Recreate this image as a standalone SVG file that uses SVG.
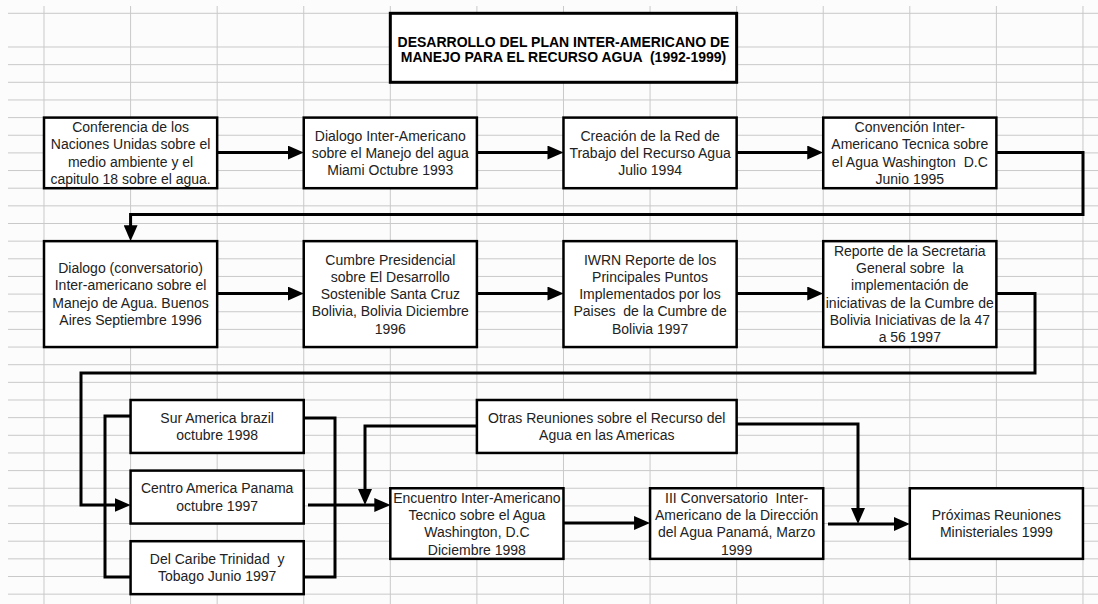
<svg xmlns="http://www.w3.org/2000/svg" width="1098" height="604" viewBox="0 0 1098 604">
<defs>
<marker id="ah" markerUnits="userSpaceOnUse" markerWidth="16" markerHeight="14" refX="6" refY="7" orient="auto">
<path d="M0,0 L16,7 L0,14 z" fill="#000"/>
</marker>
<style>
.grid{stroke:#c9c9c9;stroke-width:1;fill:none}
.box{fill:#fff;stroke:#000;stroke-width:2.5}
.t{font-family:"Liberation Sans",Arial,sans-serif;font-size:14px;fill:#222;text-anchor:middle;white-space:pre}
.title{font-family:"Liberation Sans",Arial,sans-serif;font-size:14px;font-weight:bold;fill:#000;text-anchor:middle;white-space:pre}
.c{fill:none;stroke:#000;stroke-width:3;stroke-linejoin:miter}
.a{marker-end:url(#ah)}
</style>
</defs>
<rect width="1098" height="604" fill="#fcfcfc"/>
<g id="grid" class="grid">
<path d="M8,13.3H1098 M8,47H1098 M8,64.65H1098 M8,82.3H1098 M8,99.95H1098 M8,117.6H1098 M8,135.25H1098 M8,152.9H1098 M8,170.55H1098 M8,188.2H1098 M8,205.85H1098 M8,223.5H1098 M8,241.15H1098 M8,258.8H1098 M8,276.45H1098 M8,294.1H1098 M8,311.75H1098 M8,329.4H1098 M8,347.05H1098 M8,364.7H1098 M8,382.35H1098 M8,400H1098 M8,417.65H1098 M8,435.3H1098 M8,452.95H1098 M8,470.6H1098 M8,488.25H1098 M8,505.9H1098 M8,523.55H1098 M8,541.2H1098 M8,558.85H1098 M8,576.5H1098 M8,594.15H1098"/>
<path d="M44,6V604 M130.58,6V604 M217.16,6V604 M303.74,6V604 M390.32,6V604 M476.9,6V604 M563.48,6V604 M650.06,6V604 M736.64,6V604 M823.22,6V604 M909.8,6V604 M996.38,6V604 M1082.96,6V604"/>
</g>
<g id="connectors">
<path class="c a" d="M217.16,152.5H293.74"/>
<path class="c a" d="M476.9,152.5H553.48"/>
<path class="c a" d="M736.64,152.5H813.22"/>
<path class="c a" d="M996.38,152.5H1083V214.5H130.58V231.15"/>
<path class="c a" d="M217.16,293.5H293.74"/>
<path class="c a" d="M476.9,293.5H553.48"/>
<path class="c a" d="M736.64,293.5H813.22"/>
<path class="c a" d="M996.38,293.5H1035V373H81V505H120.58"/>
<path class="c" d="M130.58,416H105V577H130.58"/>
<path class="c" d="M303.74,418H335V577H303.74"/>
<path class="c a" d="M308,505H380.32"/>
<path class="c a" d="M476.9,426H365V495"/>
<path class="c a" d="M563.48,523H640.06"/>
<path class="c a" d="M736.64,424H858V514"/>
<path class="c a" d="M828,524H899.8"/>
</g>
<g id="title">
<rect class="box" x="390.32" y="13.3" width="346.32" height="69" style="stroke-width:3"/>
<text class="title" x="563.5" y="47">DESARROLLO DEL PLAN INTER-AMERICANO DE</text>
<text class="title" x="563.5" y="62">MANEJO PARA EL RECURSO AGUA  (1992-1999)</text>
</g>
<g id="n1">
<rect class="box" x="44" y="117.6" width="173.16" height="70.6"/>
<text class="t" x="130.58" y="131.95">Conferencia de los</text>
<text class="t" x="130.58" y="149.25">Naciones Unidas sobre el</text>
<text class="t" x="130.58" y="166.55">medio ambiente y el</text>
<text class="t" x="130.58" y="183.85">capitulo 18 sobre el agua.</text>
</g>
<g id="n2">
<rect class="box" x="303.74" y="117.6" width="173.16" height="70.6"/>
<text class="t" x="390.32" y="140.6">Dialogo Inter-Americano</text>
<text class="t" x="390.32" y="157.9">sobre el Manejo del agua</text>
<text class="t" x="390.32" y="175.2">Miami Octubre 1993</text>
</g>
<g id="n3">
<rect class="box" x="563.48" y="117.6" width="173.16" height="70.6"/>
<text class="t" x="650.06" y="140.6">Creación de la Red de</text>
<text class="t" x="650.06" y="157.9">Trabajo del Recurso Agua</text>
<text class="t" x="650.06" y="175.2">Julio 1994</text>
</g>
<g id="n4">
<rect class="box" x="823.22" y="117.6" width="173.16" height="70.6"/>
<text class="t" x="909.8" y="131.95">Convención Inter-</text>
<text class="t" x="909.8" y="149.25">Americano Tecnica sobre</text>
<text class="t" x="909.8" y="166.55">el Agua Washington  D.C</text>
<text class="t" x="909.8" y="183.85">Junio 1995</text>
</g>
<g id="n5">
<rect class="box" x="44" y="241.15" width="173.16" height="105.9"/>
<text class="t" x="130.58" y="273.15">Dialogo (conversatorio)</text>
<text class="t" x="130.58" y="290.45">Inter-americano sobre el</text>
<text class="t" x="130.58" y="307.75">Manejo de Agua. Buenos</text>
<text class="t" x="130.58" y="325.05">Aires Septiembre 1996</text>
</g>
<g id="n6">
<rect class="box" x="303.74" y="241.15" width="173.16" height="105.9"/>
<text class="t" x="390.32" y="264.5">Cumbre Presidencial</text>
<text class="t" x="390.32" y="281.8">sobre El Desarrollo</text>
<text class="t" x="390.32" y="299.1">Sostenible Santa Cruz</text>
<text class="t" x="390.32" y="316.4">Bolivia, Bolivia Diciembre</text>
<text class="t" x="390.32" y="333.7">1996</text>
</g>
<g id="n7">
<rect class="box" x="563.48" y="241.15" width="173.16" height="105.9"/>
<text class="t" x="650.06" y="264.5">IWRN Reporte de los</text>
<text class="t" x="650.06" y="281.8">Principales Puntos</text>
<text class="t" x="650.06" y="299.1">Implementados por los</text>
<text class="t" x="650.06" y="316.4">Paises  de la Cumbre de</text>
<text class="t" x="650.06" y="333.7">Bolivia 1997</text>
</g>
<g id="n8">
<rect class="box" x="823.22" y="241.15" width="173.16" height="105.9"/>
<text class="t" x="909.8" y="255.85">Reporte de la Secretaria</text>
<text class="t" x="909.8" y="273.15">General sobre  la</text>
<text class="t" x="909.8" y="290.45">implementación de</text>
<text class="t" x="909.8" y="307.75">iniciativas de la Cumbre de</text>
<text class="t" x="909.8" y="325.05">Bolivia Iniciativas de la 47</text>
<text class="t" x="909.8" y="342.35">a 56 1997</text>
</g>
<g id="n9">
<rect class="box" x="130.58" y="400" width="173.16" height="52.95"/>
<text class="t" x="217.16" y="422.85">Sur America brazil</text>
<text class="t" x="217.16" y="440.15">octubre 1998</text>
</g>
<g id="n10">
<rect class="box" x="130.58" y="470.6" width="173.16" height="52.95"/>
<text class="t" x="217.16" y="493.45">Centro America Panama</text>
<text class="t" x="217.16" y="510.75">octubre 1997</text>
</g>
<g id="n11">
<rect class="box" x="130.58" y="541.2" width="173.16" height="52.95"/>
<text class="t" x="217.16" y="564.05">Del Caribe Trinidad  y</text>
<text class="t" x="217.16" y="581.35">Tobago Junio 1997</text>
</g>
<g id="n12">
<rect class="box" x="476.9" y="400" width="259.74" height="52.95"/>
<text class="t" x="606.77" y="422.85">Otras Reuniones sobre el Recurso del</text>
<text class="t" x="606.77" y="440.15">Agua en las Americas</text>
</g>
<g id="n13">
<rect class="box" x="390.32" y="488.25" width="173.16" height="70.6"/>
<text class="t" x="476.9" y="502.6">Encuentro Inter-Americano</text>
<text class="t" x="476.9" y="519.9">Tecnico sobre el Agua</text>
<text class="t" x="476.9" y="537.2">Washington, D.C</text>
<text class="t" x="476.9" y="554.5">Diciembre 1998</text>
</g>
<g id="n14">
<rect class="box" x="650.06" y="488.25" width="173.16" height="70.6"/>
<text class="t" x="736.64" y="502.6">III Conversatorio  Inter-</text>
<text class="t" x="736.64" y="519.9">Americano de la Dirección</text>
<text class="t" x="736.64" y="537.2">del Agua Panamá, Marzo</text>
<text class="t" x="736.64" y="554.5">1999</text>
</g>
<g id="n15">
<rect class="box" x="909.8" y="488.25" width="173.16" height="70.6"/>
<text class="t" x="996.38" y="519.9">Próximas Reuniones</text>
<text class="t" x="996.38" y="537.2">Ministeriales 1999</text>
</g>
</svg>
